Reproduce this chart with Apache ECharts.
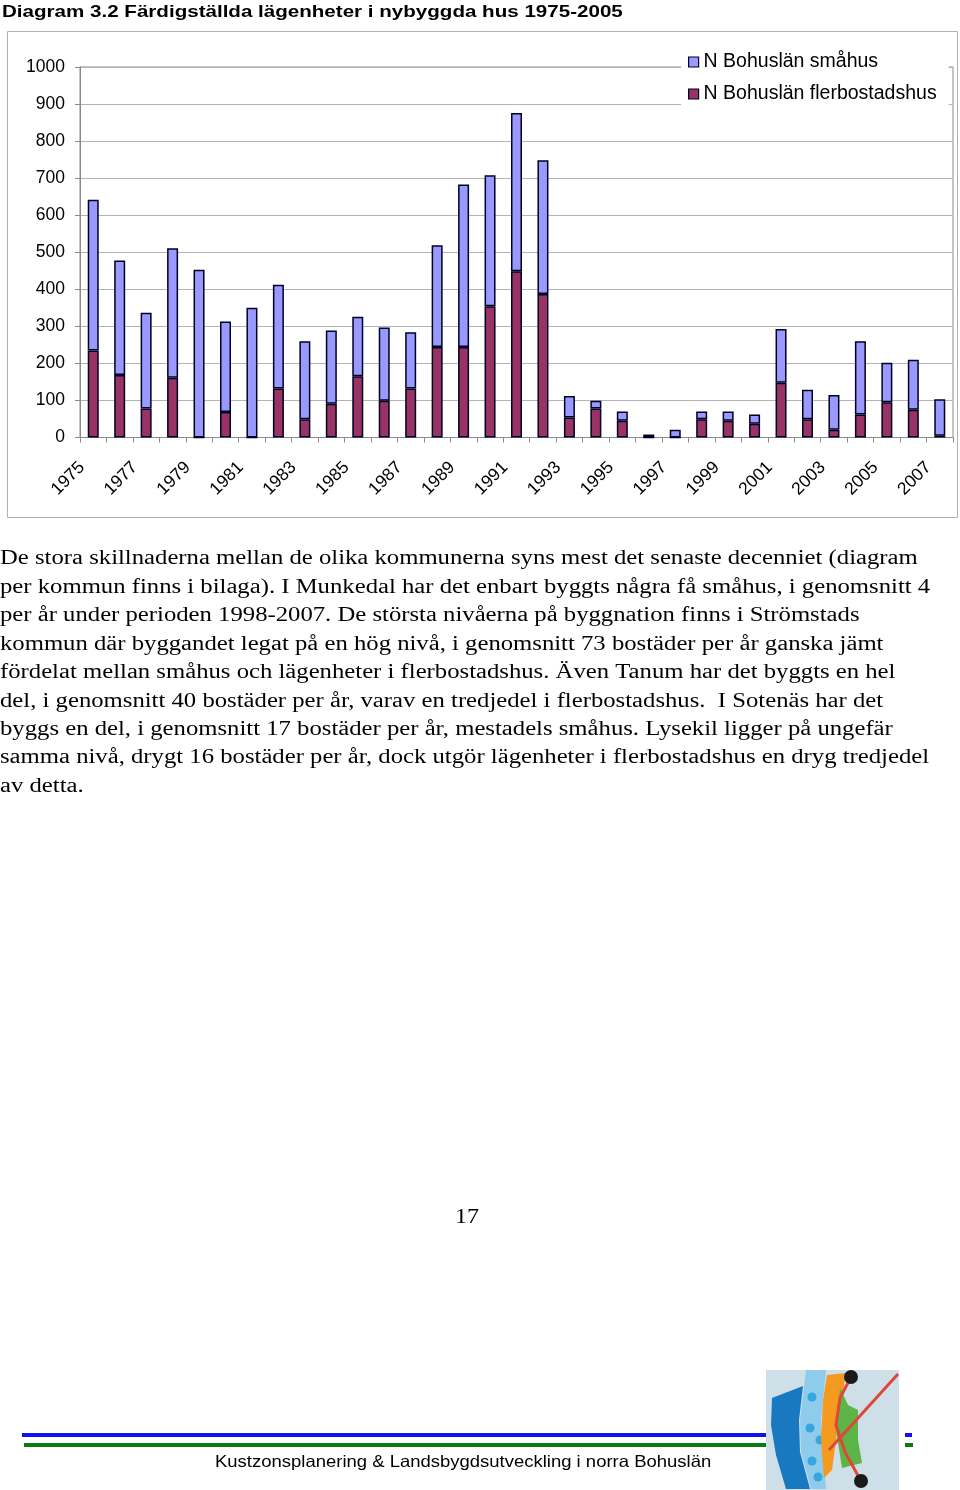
<!DOCTYPE html>
<html>
<head>
<meta charset="utf-8">
<script src="https://cdn.jsdelivr.net/npm/echarts@6/dist/echarts.min.js"></script>
<style>
html,body{margin:0;padding:0;background:#fff;}
#page{width:960px;height:1490px;}
</style>
</head>
<body>
<div id="page"></div>
<script>
// ---- data ----
const years = ['1975','1976','1977','1978','1979','1980','1981','1982','1983','1984','1985',
  '1986','1987','1988','1989','1990','1991','1992','1993','1994','1995','1996','1997','1998',
  '1999','2000','2001','2002','2003','2004','2005','2006','2007'];
const flerbostadshus = [235,169,78,161,0,69,0,132,49,91,165,99,132,244,244,354,449,387,54,78,45,0,0,49,45,37,148,49,21,62,95,75,5];
const smahus = [407,309,259,350,453,244,350,280,211,198,161,198,152,275,439,354,427,361,58,21,25,8,21,21,25,25,145,80,94,198,107,135,98];
const yTicks = [0,100,200,300,400,500,600,700,800,900,1000];
const seriesNames = ['N Bohuslän småhus','N Bohuslän flerbostadshus'];

const titleText = 'Diagram 3.2 Färdigställda lägenheter i nybyggda hus 1975-2005';
const paragraph = [
  'De stora skillnaderna mellan de olika kommunerna syns mest det senaste decenniet (diagram',
  'per kommun finns i bilaga). I Munkedal har det enbart byggts några få småhus, i genomsnitt 4',
  'per år under perioden 1998-2007. De största nivåerna på byggnation finns i Strömstads',
  'kommun där byggandet legat på en hög nivå, i genomsnitt 73 bostäder per år ganska jämt',
  'fördelat mellan småhus och lägenheter i flerbostadshus. Även Tanum har det byggts en hel',
  'del, i genomsnitt 40 bostäder per år, varav en tredjedel i flerbostadshus.  I Sotenäs har det',
  'byggs en del, i genomsnitt 17 bostäder per år, mestadels småhus. Lysekil ligger på ungefär',
  'samma nivå, drygt 16 bostäder per år, dock utgör lägenheter i flerbostadshus en dryg tredjedel',
  'av detta.'
];
const pageNumber = '17';
const footerText = 'Kustzonsplanering & Landsbygdsutveckling i norra Bohuslän';

// ---- chart ----
const chart = echarts.init(document.getElementById('page'), null, {renderer:'canvas', width:960, height:1490});
const SANS = '"Liberation Sans", Arial, sans-serif';
const SERIF = '"Liberation Serif", "Times New Roman", serif';

const graphics = [];
// outer chart frame
graphics.push({type:'rect', z:-10, shape:{x:7.5,y:31.5,width:950,height:486}, style:{fill:'#fff', stroke:'#b0b0b0', lineWidth:1}});
// title
graphics.push({type:'text', x:2, y:12, scaleX:1.21, style:{text:titleText, font:'bold 17px '+SANS, fill:'#000', verticalAlign:'middle'}});
// paragraph
paragraph.forEach(function(line, i){
  graphics.push({type:'text', x:0, y:559 + i*28.45, scaleX:1.235, style:{text:line, font:'20px '+SERIF, fill:'#000', verticalAlign:'middle'}});
});
graphics.push({type:'text', x:467, y:1218, scaleX:1.2, style:{text:pageNumber, font:'20px '+SERIF, fill:'#000', align:'center', verticalAlign:'middle'}});
// footer lines
graphics.push({type:'rect', shape:{x:22,y:1433,width:744,height:4}, style:{fill:'#1010f0'}});
graphics.push({type:'rect', shape:{x:24,y:1443,width:742,height:4}, style:{fill:'#0a7a12'}});
graphics.push({type:'rect', shape:{x:905,y:1433,width:7,height:4}, style:{fill:'#1010f0'}});
graphics.push({type:'rect', shape:{x:905,y:1443,width:8,height:4}, style:{fill:'#0a7a12'}});
graphics.push({type:'text', x:215, y:1462, scaleX:1.12, style:{text:footerText, font:'16.5px '+SANS, fill:'#000', verticalAlign:'middle'}});
// logo
graphics.push({type:'rect', shape:{x:766,y:1370,width:133,height:120}, style:{fill:'#cfdfe8'}});
graphics.push({type:'polygon', shape:{points:[[772,1398],[803,1386],[799,1420],[800,1452],[810,1489],[786,1489],[776,1455],[771,1425]]}, style:{fill:'#1878c0'}});
graphics.push({type:'polygon', shape:{points:[[806,1370],[826,1370],[821,1420],[826,1489],[811,1489],[801,1452],[800,1420]]}, style:{fill:'#8fcbea'}});
[[812,1397],[810,1428],[812,1461],[818,1477],[820,1440]].forEach(function(p){
  graphics.push({type:'circle', shape:{cx:p[0],cy:p[1],r:4.5}, style:{fill:'#35a6de'}});
});
graphics.push({type:'polygon', shape:{points:[[827,1375],[846,1373],[840,1410],[836,1440],[832,1470],[824,1478],[821,1440],[823,1400]]}, style:{fill:'#f39a1f'}});
graphics.push({type:'polygon', shape:{points:[[840,1388],[848,1405],[858,1410],[858,1440],[862,1463],[842,1468],[836,1430]]}, style:{fill:'#5cb546'}});
graphics.push({type:'polyline', shape:{points:[[851,1377],[840,1398],[836,1425],[845,1452],[861,1481]]}, style:{stroke:'#e0463a', lineWidth:3, fill:null}});
graphics.push({type:'line', shape:{x1:898,y1:1374,x2:829,y2:1450}, style:{stroke:'#e0463a', lineWidth:3}});
graphics.push({type:'circle', shape:{cx:851,cy:1377,r:7}, style:{fill:'#1a1a1a'}});
graphics.push({type:'circle', shape:{cx:861,cy:1481,r:7}, style:{fill:'#1a1a1a'}});

const barBorder = {borderColor:'#000022', borderWidth:1.5};

chart.setOption({
  animation:false,
  backgroundColor:'#fff',
  textStyle:{fontFamily:SANS},
  grid:{left:80, right:7, top:67, bottom:1052.5, show:true, borderColor:'#8a8a8a', borderWidth:1, backgroundColor:'transparent'},
  legend:{
    data:seriesNames, orient:'vertical', left:681, top:46,
    backgroundColor:'#fff', padding:[6,12,6,7], itemGap:12,
    itemWidth:10, itemHeight:10, icon:'rect',
    textStyle:{fontFamily:SANS, fontSize:19.5, color:'#000', padding:[0,0,0,0]},
    itemStyle:{borderColor:'#000022', borderWidth:1.2}
  },
  xAxis:{
    type:'category', data:years,
    axisLine:{lineStyle:{color:'#8a8a8a', width:1}},
    axisTick:{show:true, alignWithLabel:false, interval:0, length:5, lineStyle:{color:'#8a8a8a'}},
    axisLabel:{interval:1, rotate:45, margin:16, padding:[0,16,0,0], fontSize:17.5, color:'#000', fontFamily:SANS},
    splitLine:{show:false}
  },
  yAxis:{
    type:'value', min:0, max:1000, interval:100,
    axisLine:{show:true, lineStyle:{color:'#8a8a8a', width:1}},
    axisTick:{show:true, length:5, lineStyle:{color:'#8a8a8a'}},
    axisLabel:{margin:15, fontSize:17.5, color:'#000', fontFamily:SANS, formatter:function(v){return String(v);}},
    splitLine:{show:true, lineStyle:{color:'#b4b4b4', width:1}}
  },
  series:[
    {name:seriesNames[1], type:'bar', stack:'t', data:flerbostadshus, barWidth:11, itemStyle:Object.assign({color:'#993366'}, barBorder)},
    {name:seriesNames[0], type:'bar', stack:'t', data:smahus, barWidth:11, itemStyle:Object.assign({color:'#9999ff'}, barBorder)}
  ],
  graphic:graphics
});
</script>
</body>
</html>
